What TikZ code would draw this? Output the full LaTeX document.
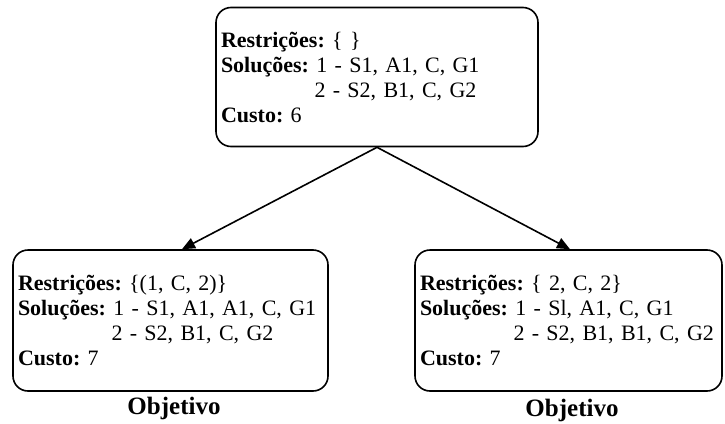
\documentclass[tikz,border=0pt]{standalone}
\usepackage{fontspec}
\setmainfont{Liberation Serif}
\usetikzlibrary{arrows.meta}

\newlength{\solindent}
\frenchspacing

\begin{document}
\settowidth{\solindent}{\fontsize{22}{25}\selectfont\textbf{Soluções:} }%
\begin{tikzpicture}[x=1pt,y=-1pt,
  statebox/.style={draw, line width=1.6pt, rounded corners=15pt,
    align=left, inner xsep=5pt, inner ysep=0pt,
    font=\fontsize{22}{25}\selectfont},
  link/.style={line width=1.6pt, -{Triangle[length=13pt,width=11pt]}},
  goal/.style={font=\fontsize{25}{28}\selectfont\bfseries}
]
\useasboundingbox (0,0) rectangle (725,423);

\node[statebox, text width=312pt, minimum height=139pt] (root) at (377,77)
  {\textbf{Restrições:} \{ \}\\
   \textbf{Soluções:} 1 - S1, A1, C, G1\\
   \hspace*{\solindent}2 - S2, B1, C, G2\\
   \textbf{Custo:} 6};

\node[statebox, text width=305pt, minimum height=141pt] (left) at (170.5,320.5)
  {\textbf{Restrições:} \{(1, C, 2)\}\\
   \textbf{Soluções:} 1 - S1, A1, A1, C, G1\\
   \hspace*{\solindent}2 - S2, B1, C, G2\\
   \textbf{Custo:} 7};

\node[statebox, text width=297pt, minimum height=141pt] (right) at (568.5,320.5)
  {\textbf{Restrições:} \{ 2, C, 2\}\\
   \textbf{Soluções:} 1 - Sl, A1, C, G1\\
   \hspace*{\solindent}2 - S2, B1, B1, C, G2\\
   \textbf{Custo:} 7};

\draw[link] (root.south) -- ([xshift=11.5pt]left.north);
\draw[link] (root.south) -- ([xshift=1.5pt]right.north);

\node[goal] (goalL) at (174,408) {Objetivo};
\node[goal] (goalR) at (572,410) {Objetivo};
\end{tikzpicture}
\end{document}
